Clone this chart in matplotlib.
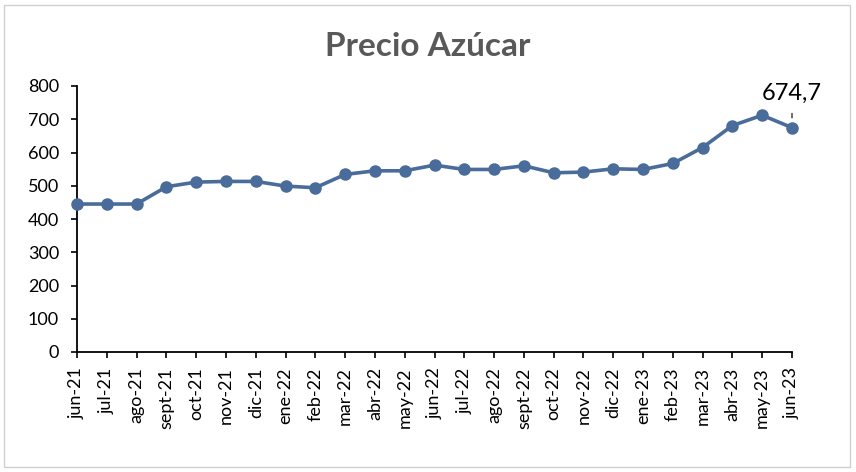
import matplotlib
matplotlib.use("Agg")
import matplotlib.pyplot as plt
from matplotlib.patches import Rectangle

plt.rcParams['font.family'] = ['Lato', 'DejaVu Sans']

meses = ["jun-21", "jul-21", "ago-21", "sept-21", "oct-21", "nov-21", "dic-21",
         "ene-22", "feb-22", "mar-22", "abr-22", "may-22", "jun-22", "jul-22",
         "ago-22", "sept-22", "oct-22", "nov-22", "dic-22", "ene-23", "feb-23",
         "mar-23", "abr-23", "may-23", "jun-23"]
precio = [445, 445, 445, 497, 511, 513, 513, 499, 494, 534, 545, 545, 562,
          549, 549, 560, 539, 541, 551, 549, 567, 615, 681, 712, 674.7]
y_ticks = [0, 100, 200, 300, 400, 500, 600, 700, 800]

color_linea = "#4a6c9b"

fig = plt.figure(figsize=(8.56, 4.72), dpi=100)
ax = fig.add_axes([77 / 856, 1 - 352 / 472, (792 - 77) / 856, (352 - 86) / 472])

x = list(range(len(meses)))
ax.plot(x, precio, color=color_linea, lw=2.6, marker="o", markersize=8,
        clip_on=False, zorder=3)

ax.set_xlim(0, len(meses) - 1)
ax.set_ylim(0, 800)
ax.set_yticks(y_ticks)
ax.set_yticklabels([str(v) for v in y_ticks], fontsize=13)
ax.set_xticks(x)
ax.set_xticklabels(meses, rotation=90, fontsize=13)
ax.tick_params(axis="both", direction="out", length=4, width=1.2, color="black")
ax.tick_params(axis="x", pad=7)
ax.tick_params(axis="y", pad=9)

for s in ["top", "right"]:
    ax.spines[s].set_visible(False)
for s in ["left", "bottom"]:
    ax.spines[s].set_linewidth(1.3)
    ax.spines[s].set_color("black")

# etiqueta del ultimo dato
ult = len(precio) - 1
ax.annotate(f"{precio[ult]:.1f}".replace(".", ","), xy=(ult, precio[ult]),
            xytext=(0, 24), textcoords="offset pixels", ha="center", va="bottom",
            fontsize=17, annotation_clip=False,
            arrowprops=dict(arrowstyle="-", color="black", lw=0.8,
                            shrinkA=5, shrinkB=7))

fig.text(0.5, 1 - 46 / 472, "Precio Azúcar", ha="center", va="center",
         fontsize=24, fontweight="bold", color="#595959")

fig.patches.append(Rectangle((4 / 856, 5 / 472), 846 / 856, 462 / 472,
                             transform=fig.transFigure, fill=False,
                             edgecolor="#d0d0d0", lw=1))

fig.savefig("out.png", dpi=100)
